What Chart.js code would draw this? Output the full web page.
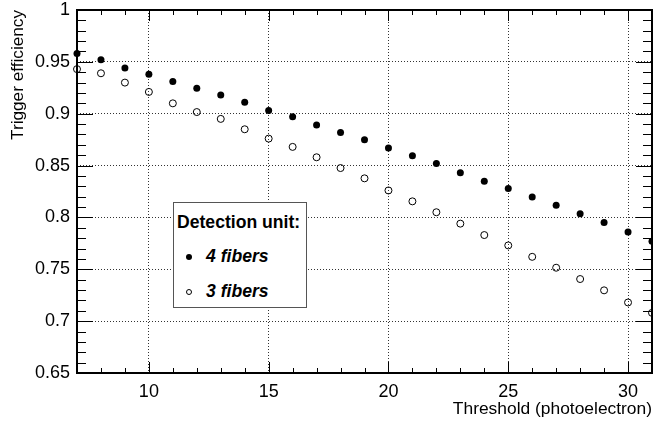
<!DOCTYPE html>
<html>
<head>
<meta charset="utf-8">
<script src="https://cdn.jsdelivr.net/npm/chart.js@4"></script>
<style>
  html, body { margin: 0; padding: 0; background: #fff; }
  #wrap { position: relative; width: 653px; height: 428px; }
  #legend {
    position: absolute; left: 173px; top: 202px; width: 132px; height: 104px;
    border: 1.5px solid #555; background: #fff;
    font-family: "Liberation Sans", Arial, sans-serif; color: #000;
  }
  #legend .title { position: absolute; left: 3px; top: 9px; font-weight: bold; font-size: 17.6px; white-space: nowrap; }
  #legend .row { position: absolute; left: 32px; font-weight: bold; font-style: italic; font-size: 17.6px; white-space: nowrap; }
  #legend .mk { position: absolute; width: 6px; height: 6px; border-radius: 50%; box-sizing: border-box; }
</style>
</head>
<body>
<div id="wrap">
  <canvas id="c" width="653" height="428"></canvas>
  <div id="legend">
    <div class="title">Detection unit:</div>
    <div class="mk" style="left:12px; top:50.5px; background:#000;"></div>
    <div class="row" style="top:43px;">4 fibers</div>
    <div class="mk" style="left:12px; top:85.5px; border:1px solid #000; background:#fff;"></div>
    <div class="row" style="top:78px;">3 fibers</div>
  </div>
</div>
<script>
const thresholds = [7,8,9,10,11,12,13,14,15,16,17,18,19,20,21,22,23,24,25,26,27,28,29,30,31];
const eff4fibers = [0.958,0.952,0.944,0.938,0.931,0.9245,0.918,0.911,0.903,0.897,0.889,0.882,0.875,0.867,0.8595,0.852,0.843,0.835,0.828,0.8197,0.8117,0.8036,0.795,0.786,0.777];
const eff3fibers = [0.943,0.939,0.930,0.921,0.910,0.9016,0.895,0.885,0.876,0.868,0.858,0.8476,0.8377,0.826,0.8155,0.805,0.794,0.783,0.773,0.762,0.7515,0.7406,0.7297,0.718,0.708];
const xTickValues = [10,15,20,25,30];
const yTickValues = [0.65,0.7,0.75,0.8,0.85,0.9,0.95,1];
const yTickLabels = ['0.65','0.7','0.75','0.8','0.85','0.9','0.95','1'];
const xTitle = 'Threshold (photoelectron)';
const yTitle = 'Trigger efficiency';

const FONT = '"Liberation Sans", Arial, Helvetica, sans-serif';

const framePlugin = {
  id: 'frame',
  afterDatasetsDraw(chart) {
    const {ctx, chartArea: a, scales: {x, y}} = chart;
    ctx.save();
    ctx.strokeStyle = '#000';
    ctx.lineWidth = 1;
    ctx.beginPath();
    for (let v = Math.ceil(x.min); v <= x.max; v++) {
      const px = Math.round(x.getPixelForValue(v)) + 0.5;
      const len = (v % 5 === 0) ? 11 : 5;
      ctx.moveTo(px, a.bottom); ctx.lineTo(px, a.bottom - len);
      ctx.moveTo(px, a.top); ctx.lineTo(px, a.top + len);
    }
    for (let i = 0; i <= Math.round((y.max - y.min) / 0.01); i++) {
      const v = y.min + i * 0.01;
      const py = Math.round(y.getPixelForValue(v)) + 0.5;
      const len = (i % 5 === 0) ? 16 : 9;
      ctx.moveTo(a.left, py); ctx.lineTo(a.left + len, py);
      ctx.moveTo(a.right, py); ctx.lineTo(a.right - len, py);
    }
    ctx.stroke();
    ctx.lineWidth = 2;
    ctx.strokeRect(a.left, a.top, a.right - a.left, a.bottom - a.top);
    ctx.restore();
  }
};

new Chart(document.getElementById('c'), {
  type: 'scatter',
  data: {
    datasets: [
      {
        label: '4 fibers',
        data: thresholds.map((t, i) => ({x: t, y: eff4fibers[i]})),
        pointStyle: 'circle', pointRadius: 3.5,
        backgroundColor: '#000', borderColor: '#000', borderWidth: 0,
        showLine: false, clip: false
      },
      {
        label: '3 fibers',
        data: thresholds.map((t, i) => ({x: t, y: eff3fibers[i]})),
        pointStyle: 'circle', pointRadius: 3.5,
        backgroundColor: 'rgba(255,255,255,0)', borderColor: '#000', borderWidth: 1,
        showLine: false, clip: false
      }
    ]
  },
  options: {
    responsive: false,
    animation: false,
    events: [],
    layout: { autoPadding: false, padding: { left: 0, right: 1, top: 10, bottom: 0 } },
    plugins: { legend: { display: false }, tooltip: { enabled: false } },
    scales: {
      x: {
        type: 'linear', min: 7, max: 31,
        afterBuildTicks: s => { s.ticks = xTickValues.map(v => ({value: v})); },
        afterFit: s => { s.height = 55; },
        grid: { color: '#333', lineWidth: 1, drawTicks: false },
        border: { display: false, dash: [1, 2] },
        ticks: { color: '#000', padding: 8, maxRotation: 0, font: { family: FONT, size: 18 } },
        title: { display: true, text: xTitle, align: 'end', color: '#000',
                 padding: { top: 0, bottom: 8 }, font: { family: FONT, size: 17.4 } }
      },
      y: {
        type: 'linear', min: 0.65, max: 1,
        afterBuildTicks: s => { s.ticks = yTickValues.map(v => ({value: v})); },
        afterFit: s => { s.width = 77; s.paddingTop = 0; s.paddingBottom = 0; },
        grid: { color: '#333', lineWidth: 1, drawTicks: false },
        border: { display: false, dash: [1, 2] },
        ticks: { color: '#000', padding: 7, font: { family: FONT, size: 18, lineHeight: 1 },
                 callback: (v, i) => yTickLabels[i] },
        title: { display: true, text: yTitle, align: 'end', color: '#000',
                 padding: { top: 8, bottom: 0 }, font: { family: FONT, size: 17.2 } }
      }
    }
  },
  plugins: [framePlugin]
});
</script>
</body>
</html>
